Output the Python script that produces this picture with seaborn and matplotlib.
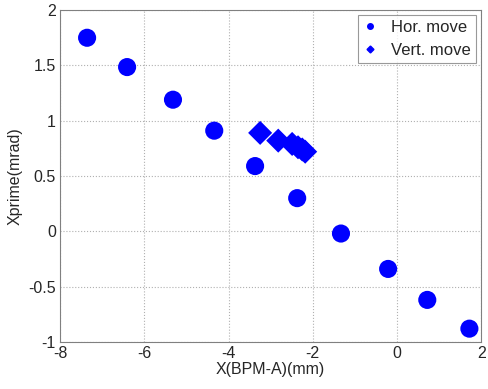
import matplotlib
matplotlib.use("Agg")
import matplotlib.pyplot as plt
import seaborn as sns
import pandas as pd

hor_x = [-7.36, -6.41, -5.32, -4.34, -3.37, -2.37, -1.33, -0.21, 0.72, 1.72]
hor_y = [1.75, 1.485, 1.19, 0.91, 0.59, 0.30, -0.02, -0.34, -0.62, -0.88]
ver_x = [-3.25, -2.82, -2.49, -2.35, -2.25, -2.18]
ver_y = [0.89, 0.82, 0.79, 0.76, 0.74, 0.72]

df = pd.DataFrame({
    "x": hor_x + ver_x,
    "y": hor_y + ver_y,
    "kind": ["Hor. move"] * len(hor_x) + ["Vert. move"] * len(ver_x),
})

sns.set_style("white")
plt.rcParams["font.family"] = ["Liberation Sans", "DejaVu Sans"]
plt.rcParams["axes.unicode_minus"] = False

fig = plt.figure(figsize=(4.89, 3.89), dpi=100)
ax = fig.add_axes([0.123, 0.121, 0.861, 0.853])

sns.scatterplot(data=df, x="x", y="y", hue="kind", style="kind",
                markers={"Hor. move": "o", "Vert. move": "D"},
                palette={"Hor. move": "#0000ff", "Vert. move": "#0000ff"},
                size="kind", sizes={"Hor. move": 170, "Vert. move": 150},
                linewidth=0, ax=ax, legend=False)

ax.set_xlim(-8, 2)
ax.set_ylim(-1, 2)
ax.set_xticks([-8, -6, -4, -2, 0, 2])
ax.set_yticks([-1, -0.5, 0, 0.5, 1, 1.5, 2])
ax.set_yticklabels(["-1", "-0.5", "0", "0.5", "1", "1.5", "2"])
ax.grid(True, linestyle=":", color="#b0b0b0", linewidth=0.8)
for s in ax.spines.values():
    s.set_color("#808080")
    s.set_linewidth(0.8)
ax.tick_params(direction="in", length=4, color="#808080", labelsize=11.5, pad=3)
ax.set_xlabel("X(BPM-A)(mm)", fontsize=11.5, labelpad=1)
ax.set_ylabel("Xprime(mrad)", fontsize=11.5, labelpad=4)

from matplotlib.lines import Line2D
handles = [Line2D([], [], marker="o", color="#0000ff", linestyle="", markersize=4),
           Line2D([], [], marker="D", color="#0000ff", linestyle="", markersize=3.5)]
leg = ax.legend(handles, ["Hor. move", "Vert. move"], loc="upper right",
                fontsize=12, frameon=True, fancybox=False, handlelength=0.8,
                handletextpad=0.9, borderpad=0.3, labelspacing=0.45,
                borderaxespad=0.3)
leg.get_frame().set_edgecolor("#808080")
leg.get_frame().set_linewidth(0.8)

fig.savefig("out.png", dpi=100)
